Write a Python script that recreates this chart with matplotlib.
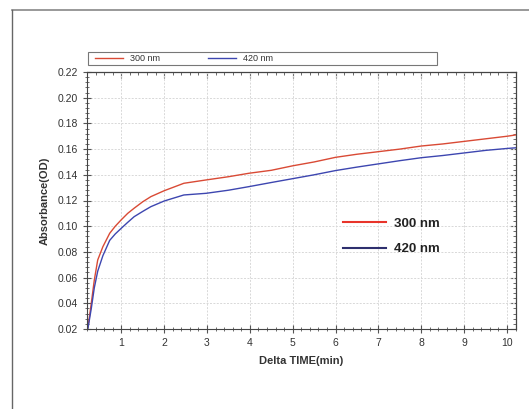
import matplotlib
matplotlib.use('Agg')
from matplotlib import pyplot as plt
from matplotlib.lines import Line2D
from matplotlib.patches import Rectangle
from matplotlib.ticker import MultipleLocator, FormatStrFormatter

plt.rcParams['font.family'] = ['Liberation Sans', 'DejaVu Sans']

# values
time = [0.22, 0.25, 0.30, 0.37, 0.45, 0.57, 0.73, 0.86, 1.0, 1.15, 1.3, 1.5, 1.69,
        2.0, 2.46, 2.98, 3.5, 3.98, 4.5, 5.0, 5.5, 6.0, 6.5, 7.0, 7.5, 8.0,
        8.5, 9.0, 9.5, 10.0, 10.2]
abs_300 = [0.021, 0.028, 0.040, 0.058, 0.0737, 0.084, 0.0945, 0.100, 0.105, 0.110,
           0.114, 0.119, 0.123, 0.1276, 0.1334, 0.136, 0.1385, 0.1412, 0.1435,
           0.147, 0.150, 0.1536, 0.156, 0.158, 0.160, 0.1624, 0.164, 0.166,
           0.168, 0.170, 0.171]
abs_420 = [0.020, 0.026, 0.036, 0.052, 0.065, 0.077, 0.089, 0.094, 0.0984, 0.103,
           0.1074, 0.1115, 0.1152, 0.1196, 0.1243, 0.1256, 0.128, 0.1308, 0.134,
           0.137, 0.140, 0.1433, 0.146, 0.1485, 0.151, 0.1533, 0.155, 0.157,
           0.159, 0.1605, 0.161]
labels = ['300 nm', '420 nm']

red = '#d94a35'
blue = '#3d46b0'

W, H = 529, 409
fig = plt.figure(figsize=(W / 100, H / 100), dpi=100)
ax = fig.add_axes([87 / W, 1 - 329 / H, (516 - 87) / W, (329 - 72) / H])

l1, = ax.plot(time, abs_300, color=red, lw=1.0)
l2, = ax.plot(time, abs_420, color=blue, lw=1.0)

ax.set_xlim(0.2, 10.21)
ax.set_ylim(0.02, 0.22)
ax.xaxis.set_major_locator(MultipleLocator(1))
ax.xaxis.set_minor_locator(MultipleLocator(0.2))
ax.yaxis.set_major_locator(MultipleLocator(0.02))
ax.yaxis.set_minor_locator(MultipleLocator(0.004))
ax.yaxis.set_major_formatter(FormatStrFormatter('%.2f'))
ax.set_xticks(range(1, 11))
ax.tick_params(which='both', direction='inout', colors='#555555',
               labelcolor='#333333', labelsize=7.5)
ax.tick_params(which='major', length=6, width=0.8)
ax.tick_params(which='minor', length=3, width=0.6)
ax.grid(True, which='major', color='#d8d8d8', lw=0.7, ls=(0, (2, 1.5)))
for s in ax.spines.values():
    s.set_color('#444444')
    s.set_linewidth(0.8)

# ticks on top and right point inward only
top = ax.secondary_xaxis('top')
top.set_xticks(range(1, 11))
top.xaxis.set_minor_locator(MultipleLocator(0.2))
top.tick_params(which='both', direction='in', labeltop=False, colors='#555555')
top.tick_params(which='major', length=4, width=0.8)
top.tick_params(which='minor', length=2.5, width=0.6)
right = ax.secondary_yaxis('right')
right.yaxis.set_major_locator(MultipleLocator(0.02))
right.yaxis.set_minor_locator(MultipleLocator(0.004))
right.tick_params(which='both', direction='in', labelright=False, colors='#555555')
right.tick_params(which='major', length=4, width=0.8)
right.tick_params(which='minor', length=2.5, width=0.6)

ax.set_xlabel('Delta TIME(min)', fontsize=8, fontweight='bold', color='#333333', labelpad=6)
ax.set_ylabel('Absorbance(OD)', fontsize=8, fontweight='bold', color='#333333', labelpad=6)

# top legend box
fig.patches.append(Rectangle((88 / W, 1 - 65 / H), 349 / W, 13 / H,
                             transform=fig.transFigure, fill=False,
                             edgecolor='#777777', lw=0.8))
leg1 = fig.legend([l1, l2], labels, loc='center left',
                  bbox_to_anchor=(90 / W, 1 - 58.5 / H), ncol=2, frameon=False,
                  fontsize=6.5, handlelength=3.2, columnspacing=5.3,
                  handletextpad=0.7, borderpad=0, labelcolor='#333333')

# inner legend
h1 = Line2D([], [], color='#e8342a', lw=1.5)
h2 = Line2D([], [], color='#2e2f6e', lw=1.5)
leg2 = ax.legend([h1, h2], labels, loc='upper left',
                 bbox_to_anchor=((336 - 87) / (516 - 87), 1 - (211 - 72) / (329 - 72)),
                 frameon=False, prop={'size': 9.5, 'weight': 'bold'},
                 handlelength=3.3, handletextpad=0.6, labelspacing=1.0,
                 borderpad=0, labelcolor='#222222')

# outer frame lines
fig.add_artist(Line2D([11.5 / W, 1], [1 - 9.5 / H, 1 - 9.5 / H],
                      transform=fig.transFigure, color='#888888', lw=1.2))
fig.add_artist(Line2D([11.5 / W, 11.5 / W], [0, 1 - 9.5 / H],
                      transform=fig.transFigure, color='#666666', lw=1.0))

fig.savefig('out.png', dpi=100)
